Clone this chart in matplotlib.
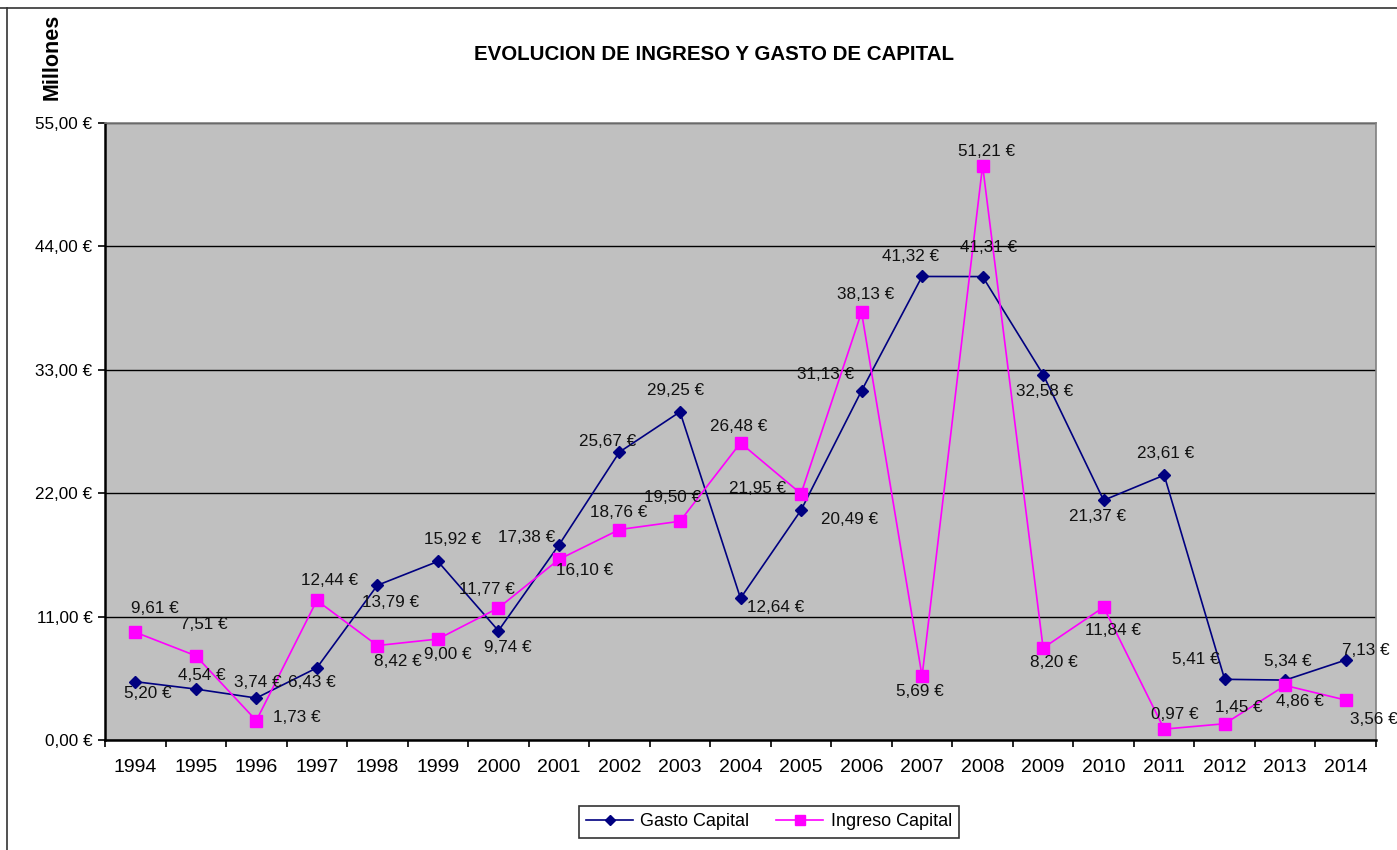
import matplotlib
matplotlib.use("Agg")
import matplotlib.pyplot as plt
from matplotlib.lines import Line2D
import numpy as np

plt.rcParams['font.family'] = ['Liberation Sans', 'DejaVu Sans']

years = ['1994', '1995', '1996', '1997', '1998', '1999', '2000', '2001', '2002', '2003', '2004',
         '2005', '2006', '2007', '2008', '2009', '2010', '2011', '2012', '2013', '2014']
gasto = [5.20, 4.54, 3.74, 6.43, 13.79, 15.92, 9.74, 17.38, 25.67, 29.25, 12.64,
         20.49, 31.13, 41.32, 41.31, 32.58, 21.37, 23.61, 5.41, 5.34, 7.13]
ingreso = [9.61, 7.51, 1.73, 12.44, 8.42, 9.00, 11.77, 16.10, 18.76, 19.50, 26.48,
           21.95, 38.13, 5.69, 51.21, 8.20, 11.84, 0.97, 1.45, 4.86, 3.56]
yticks = [0, 11, 22, 33, 44, 55]

# label offsets in pixels (dx right, dy down)
gasto_off = [(13, 12), (6, -14), (2, -16), (-5, 15), (13, 17), (15, -22), (9, 17), (-32, -8),
             (-12, -11), (-4, -21), (35, 9), (49, 9), (-36, -16), (-12, -20), (6, -29),
             (2, 17), (-6, 16), (1, -22), (-29, -20), (3, -19), (20, -10)]
ingreso_off = [(20, -24), (8, -31), (41, -3), (13, -20), (21, 16), (10, 15), (-11, -18),
               (26, 11), (-1, -17), (-7, -24), (-2, -16), (-43, -5), (4, -18), (-2, 15),
               (4, -14), (11, 14), (9, 23), (11, -15), (14, -16), (15, 16), (28, 19)]

def eur(v):
    return f"{v:.2f}".replace('.', ',') + " €"

fig = plt.figure(figsize=(13.97, 8.5), dpi=100)
ax = fig.add_axes([105/1397, 1 - 740/850, (1376 - 105)/1397, (740 - 123)/850])
ax.set_facecolor('#C0C0C0')

x = np.arange(len(years))
ax.plot(x, gasto, color='#000080', lw=1.2, marker='D', ms=6, mfc='#000080', mec='#000080',
        label='Gasto Capital', zorder=3)
ax.plot(x, ingreso, color='#FF00FF', lw=1.2, marker='s', ms=9, mfc='#FF00FF', mec='#FF00FF',
        label='Ingreso Capital', zorder=3)

for xi, v, (dx, dy) in zip(x, gasto, gasto_off):
    ax.annotate(eur(v), (xi, v), xytext=(dx, -dy), textcoords='offset pixels',
                ha='center', va='center', fontsize=12.3, color='#111111', zorder=4)
for xi, v, (dx, dy) in zip(x, ingreso, ingreso_off):
    ax.annotate(eur(v), (xi, v), xytext=(dx, -dy), textcoords='offset pixels',
                ha='center', va='center', fontsize=12.3, color='#111111', zorder=4)

ax.set_xlim(-0.5, len(years) - 0.5)
ax.set_ylim(0, 55)
ax.set_yticks(yticks)
ax.set_yticklabels([eur(v) for v in yticks], fontsize=12.3)
ax.yaxis.grid(True, color='#000000', lw=1)
ax.set_axisbelow(True)

ax.set_xticks(np.arange(len(years) + 1) - 0.5)
ax.set_xticklabels([])
ax.set_xticks(x, minor=True)
ax.set_xticklabels(years, minor=True, fontsize=14)
ax.tick_params(axis='x', which='minor', length=0, pad=14)
ax.tick_params(axis='x', which='major', length=5, width=1.2, direction='out')
ax.tick_params(axis='y', length=5, width=1.2, direction='out', pad=4)

for s in ['left', 'bottom']:
    ax.spines[s].set_color('black')
    ax.spines[s].set_linewidth(1.8)
for s in ['top', 'right']:
    ax.spines[s].set_color('#808080')
    ax.spines[s].set_linewidth(1.2)

fig.text(714/1397, 1 - 55/850, 'EVOLUCION DE INGRESO Y GASTO DE CAPITAL', ha='center',
         va='center', fontsize=14.8, fontweight='bold')
fig.text(52/1397, 1 - 57/850, 'Millones', rotation=90, ha='center', va='center',
         fontsize=15.5, fontweight='bold')

leg = fig.legend(loc='center', bbox_to_anchor=(769/1397, 1 - 822/850), ncol=2, fontsize=13,
                 frameon=True, fancybox=False, edgecolor='black', handlelength=2.6,
                 columnspacing=1.5, handletextpad=0.4, borderpad=0.4)
leg.get_frame().set_linewidth(1.2)
for h in leg.legend_handles:
    h.set_markersize(h.get_markersize() * 0.8)

fig.add_artist(Line2D([0, 1], [1 - 8/850, 1 - 8/850], transform=fig.transFigure, color='#333333', lw=1.2))
fig.add_artist(Line2D([7/1397, 7/1397], [0, 1 - 8/850], transform=fig.transFigure, color='#333333', lw=1.2))

fig.savefig('out.png', dpi=100)
